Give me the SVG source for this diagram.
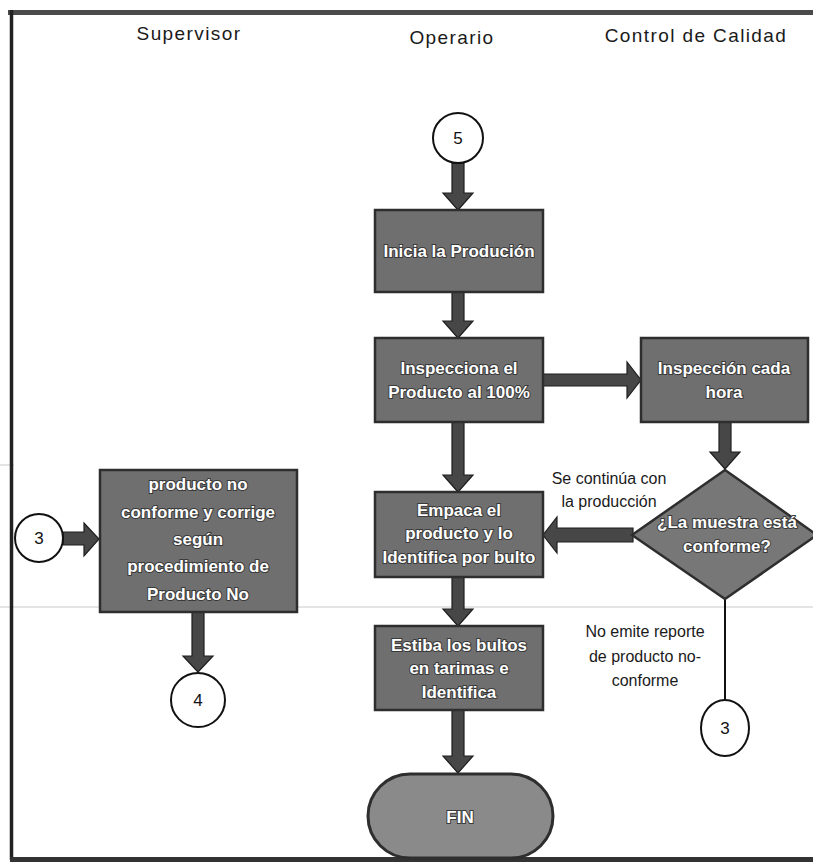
<svg xmlns="http://www.w3.org/2000/svg" width="813" height="863" viewBox="0 0 813 863">
<style>
.hdr{font-family:"Liberation Sans",Arial,sans-serif;font-size:19px;fill:#1a1a1a;letter-spacing:1.4px;text-anchor:middle}
.box{fill:#6f6f6f;stroke:#2e2e2e;stroke-width:2.5}
.bt{font-family:"Liberation Sans",Arial,sans-serif;font-size:17px;font-weight:bold;fill:#ffffff;stroke:#3a3a3a;stroke-width:2;paint-order:stroke;text-anchor:middle}
.circ{fill:#ffffff;stroke:#111;stroke-width:2}
.ct{font-family:"Liberation Sans",Arial,sans-serif;font-size:17px;fill:#111;text-anchor:middle}
.lbl{font-family:"Liberation Sans",Arial,sans-serif;font-size:16px;fill:#1a1a1a;text-anchor:middle}
.arr{fill:#474747;stroke:#1e1e1e;stroke-width:1.2}
</style>
<rect x="0" y="0" width="813" height="863" fill="#ffffff"/>
<line x1="0" y1="607" x2="813" y2="607" stroke="#e4e4e4" stroke-width="2"/>
<line x1="0" y1="465" x2="14" y2="465" stroke="#e4e4e4" stroke-width="2"/>
<g id="frame" fill="none">
<line x1="8" y1="12.5" x2="813" y2="12.5" stroke="#4a4a4a" stroke-width="5"/>
<line x1="11.5" y1="10" x2="11.5" y2="860" stroke="#222" stroke-width="3.5"/>
<line x1="10" y1="859.5" x2="813" y2="859.5" stroke="#333" stroke-width="5"/>
</g>
<g id="headers">
<text class="hdr" x="189" y="40">Supervisor</text>
<text class="hdr" x="452" y="44">Operario</text>
<text class="hdr" x="696" y="42">Control de Calidad</text>
</g>
<g id="connectors">
<path class="arr" d="M452,163 H464 V193 H473 L458,210 L443,193 H452 Z"/>
<path class="arr" d="M452,292 H464 V321 H473 L458,338 L443,321 H452 Z"/>
<path class="arr" d="M452,422 H464 V475 H473 L458,492 L443,475 H452 Z"/>
<path class="arr" d="M452,577 H464 V609 H473 L458,626 L443,609 H452 Z"/>
<path class="arr" d="M452,710 H464 V756 H473 L458,773 L443,756 H452 Z"/>
<path class="arr" d="M543,374 H627 V362 L641,380 L627,398 V386 H543 Z"/>
<path class="arr" d="M719,422 H731 V452 H740 L725,469 L710,452 H719 Z"/>
<path class="arr" d="M633,528 H557 V517 L543,535 L557,553 V542 H633 Z"/>
<path class="arr" d="M63,532 H84 V523 L99,539 L84,556 V545 H63 Z"/>
<path class="arr" d="M192,612 H204 V656 H213 L198,672 L183,656 H192 Z"/>
<line x1="725" y1="599" x2="725" y2="700" stroke="#111" stroke-width="2"/>
</g>
<g id="n5">
<circle class="circ" cx="458" cy="138" r="25"/>
<text class="ct" x="458" y="144">5</text>
</g>
<g id="inicia">
<rect class="box" x="375" y="210" width="168" height="82"/>
<text class="bt" x="459" y="257">Inicia la Produción</text>
</g>
<g id="inspecciona">
<rect class="box" x="375" y="338" width="168" height="84"/>
<text class="bt" x="459" y="374">Inspecciona el</text>
<text class="bt" x="459" y="398">Producto al 100%</text>
</g>
<g id="inspeccion-hora">
<rect class="box" x="641" y="338" width="167" height="84"/>
<text class="bt" x="724" y="374">Inspección cada</text>
<text class="bt" x="724" y="398">hora</text>
</g>
<g id="decision">
<polygon points="725,470 817,535 725,599 632,535" fill="#777777" stroke="#2e2e2e" stroke-width="2.5"/>
<text class="bt" x="727" y="528">¿La muestra está</text>
<text class="bt" x="727" y="552">conforme?</text>
</g>
<g id="empaca">
<rect class="box" x="375" y="492" width="168" height="85"/>
<text class="bt" x="459" y="516">Empaca el</text>
<text class="bt" x="459" y="539">producto y lo</text>
<text class="bt" x="459" y="563">Identifica por bulto</text>
</g>
<g id="estiba">
<rect class="box" x="375" y="626" width="168" height="84"/>
<text class="bt" x="459" y="651">Estiba los bultos</text>
<text class="bt" x="459" y="674">en tarimas e</text>
<text class="bt" x="459" y="698">Identifica</text>
</g>
<g id="fin">
<rect x="368" y="774" width="185" height="84" rx="42" ry="42" fill="#8a8a8a" stroke="#2e2e2e" stroke-width="3"/>
<text class="bt" x="460" y="823">FIN</text>
</g>
<g id="lbl-continua">
<text class="lbl" x="609" y="484">Se continúa con</text>
<text class="lbl" x="609" y="507">la producción</text>
</g>
<g id="lbl-noemite">
<text class="lbl" x="645" y="637">No emite reporte</text>
<text class="lbl" x="645" y="662">de producto no-</text>
<text class="lbl" x="645" y="686">conforme</text>
</g>
<g id="n3-right">
<ellipse class="circ" cx="725" cy="728" rx="24" ry="28"/>
<text class="ct" x="725" y="734">3</text>
</g>
<g id="n3-left">
<circle class="circ" cx="39" cy="538" r="24"/>
<text class="ct" x="39" y="544">3</text>
</g>
<g id="supervisor-box">
<rect class="box" x="100" y="470" width="197" height="142"/>
<text class="bt" x="198" y="490">producto no</text>
<text class="bt" x="198" y="518">conforme y corrige</text>
<text class="bt" x="198" y="545">según</text>
<text class="bt" x="198" y="572">procedimiento de</text>
<text class="bt" x="198" y="600">Producto No</text>
</g>
<g id="n4">
<circle class="circ" cx="198" cy="700" r="27"/>
<text class="ct" x="198" y="706">4</text>
</g>
</svg>
